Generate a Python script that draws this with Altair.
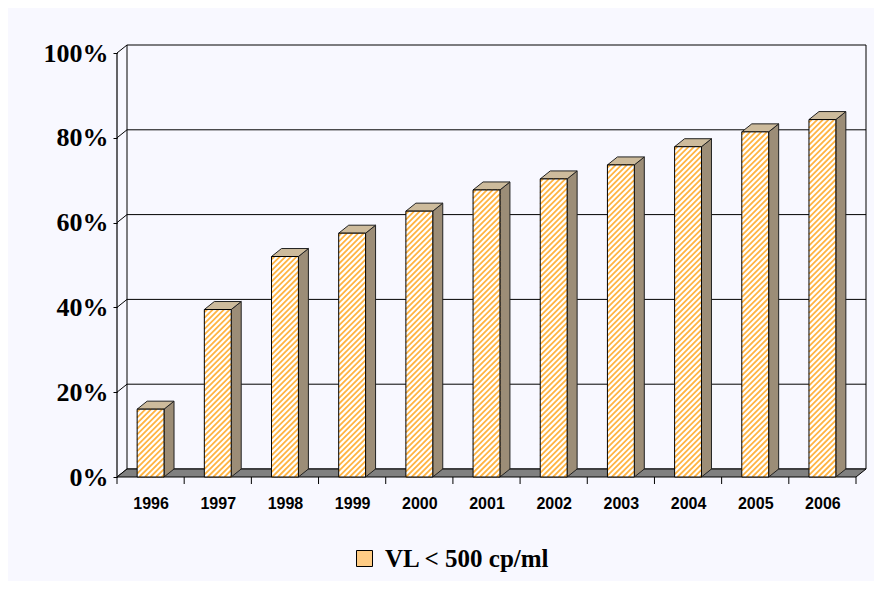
import altair as alt
import pandas as pd

# ---- data ----
years = ["1996", "1997", "1998", "1999", "2000", "2001", "2002", "2003", "2004", "2005", "2006"]
pct_vl500 = [16.0, 39.5, 52.0, 57.5, 62.7, 67.7, 70.3, 73.6, 77.9, 81.4, 84.3]
y_ticks = [0, 20, 40, 60, 80, 100]
series_label = "VL < 500 cp/ml"

# ---- geometry / style constants ----
PLOT_W, PLOT_H = 749, 432
DX_PX, DY_PX = 10, 8            # 3-D depth in pixels
N = len(years)
UX = (PLOT_W - DX_PX) / N       # pixels per category
UY = (PLOT_H - DY_PX) / 100.0   # pixels per percent
DX = DX_PX / UX
DY = DY_PX / UY
HALF = 0.2                      # half bar width (category units)
XMIN, XMAX = -0.5, N - 0.5
ORANGE = "#FFB443"
BG = "#F8F8FF"
STRIPE_PERIOD = 5.6             # hatch spacing (px, measured along x)

x_scale = alt.Scale(domain=[XMIN, XMAX + DX], nice=False, zero=False)
y_scale = alt.Scale(domain=[0, 100 + DY], nice=False, zero=False)

idx = list(range(N))
bars = pd.DataFrame({
    "i": idx, "year": years, "v": pct_vl500, "y0": 0.0,
    "x_l": [i - HALF for i in idx], "x_r": [i + HALF for i in idx],
})

side = pd.DataFrame(
    [{"year": y, "x": i + HALF, "lo": 0.0, "hi": v} for i, y, v in zip(idx, years, pct_vl500)]
    + [{"year": y, "x": i + HALF + DX, "lo": DY, "hi": v + DY} for i, y, v in zip(idx, years, pct_vl500)]
)
top = pd.DataFrame(
    [{"year": y, "y": v, "xa": i - HALF, "xb": i + HALF} for i, y, v in zip(idx, years, pct_vl500)]
    + [{"year": y, "y": v + DY, "xa": i - HALF + DX, "xb": i + HALF + DX} for i, y, v in zip(idx, years, pct_vl500)]
)

# '/' hatch lines clipped to each bar's front face (derived from the values)
hatch_rows = []
W = 2 * HALF * UX
for i, y, v in zip(idx, years, pct_vl500):
    H = v * UY
    u = STRIPE_PERIOD / 2
    while u < W + H:
        p1 = (0.0, u) if u <= H else (u - H, H)
        p2 = (u, 0.0) if u <= W else (W, u - W)
        hatch_rows.append({
            "year": y,
            "xa": i - HALF + p1[0] / UX, "ya": v - p1[1] / UY,
            "xb": i - HALF + p2[0] / UX, "yb": v - p2[1] / UY,
        })
        u += STRIPE_PERIOD
hatch = pd.DataFrame(hatch_rows)

floor = pd.DataFrame({"y": [0.0, DY], "xa": [XMIN, XMIN + DX], "xb": [XMAX, XMAX + DX]})
grid = pd.DataFrame({"t": y_ticks, "tb": [t + DY for t in y_ticks]})
grid["xa"] = XMIN + DX
grid["xb"] = XMAX + DX
grid["x0"] = XMIN
walls = pd.DataFrame({"x": [XMIN + DX, XMAX + DX], "lo": [DY, DY], "hi": [100 + DY, 100 + DY]})
front = pd.DataFrame({"x": [XMIN], "lo": [0.0], "hi": [100.0]})
bounds = pd.DataFrame({"b": [i - 0.5 for i in range(N + 1)]})
bounds["lo"] = 0.0
bounds["hi"] = -7 / UY

x_axis = alt.Axis(
    values=idx, title=None,
    labelExpr=f"'' + ({int(years[0])} + datum.value)",
    ticks=False, domain=False, grid=False, labelPadding=18,
    labelFont="Liberation Sans", labelFontWeight="bold", labelFontSize=16, labelColor="black",
)
y_axis = alt.Axis(
    values=y_ticks, title=None, labelExpr="datum.value + '%'",
    ticks=True, tickSize=4, tickColor="black", tickWidth=1, domain=False, grid=False,
    labelPadding=5, labelFont="Liberation Serif", labelFontWeight="bold", labelFontSize=26,
    labelColor="black",
)


# every layer carries the identical axes so that Vega-Lite merges them cleanly
def XN(f):
    return alt.X(f, type="quantitative", scale=x_scale, axis=x_axis, stack=None)


def YN(f):
    return alt.Y(f, type="quantitative", scale=y_scale, axis=y_axis, stack=None)


back_grid = alt.Chart(grid).mark_rule(color="black", strokeWidth=1).encode(
    x=XN("xa"), x2="xb", y=YN("tb"))
diag = alt.Chart(grid).mark_rule(color="black", strokeWidth=1).encode(
    x=XN("x0"), x2="xa", y=YN("t"), y2="tb")
wall_edges = alt.Chart(walls).mark_rule(color="black", strokeWidth=1).encode(
    x=XN("x"), y=YN("lo"), y2="hi")
front_axis = alt.Chart(front).mark_rule(color="black", strokeWidth=1.2).encode(
    x=XN("x"), y=YN("lo"), y2="hi")
floor_layer = alt.Chart(floor).mark_area(
    orient="horizontal", fill="#808080", stroke="black", strokeWidth=1
).encode(y=YN("y"), x=XN("xa"), x2="xb")
x_ticks = alt.Chart(bounds).mark_rule(color="black", strokeWidth=1).encode(
    x=XN("b"), y=YN("lo"), y2="hi")
side_layer = alt.Chart(side).mark_area(
    fill="#9C8D77", stroke="#222222", strokeWidth=1
).encode(x=XN("x"), y=YN("lo"), y2="hi", detail="year:N")
top_layer = alt.Chart(top).mark_area(
    orient="horizontal", fill="#CDBB9C", stroke="#222222", strokeWidth=1
).encode(y=YN("y"), x=XN("xa"), x2="xb", detail="year:N")

front_base = alt.Chart(bars).mark_bar(fill="#FFFFFF", strokeWidth=0).encode(
    x=XN("x_l"), x2="x_r", y=YN("v"), y2="y0",
)
hatch_layer = alt.Chart(hatch).mark_rule(color=ORANGE, strokeWidth=1.8).encode(
    x=XN("xa"), x2="xb", y=YN("ya"), y2="yb",
)
front_outline = alt.Chart(bars).mark_bar(
    fillOpacity=0, stroke="black", strokeWidth=1,
).encode(
    x=XN("x_l"), x2="x_r", y=YN("v"), y2="y0",
)

legend_layer = alt.Chart(bars).transform_calculate(
    s=f"'{series_label}'"
).mark_square(opacity=0, size=10).encode(
    x=XN("x_l"), y=YN("v"),
    fill=alt.Fill(
        "s:N",
        scale=alt.Scale(domain=[series_label], range=["#FFCC85"]),
        legend=alt.Legend(
            orient="none", legendX=235, legendY=501, title=None, padding=0,
            symbolType="square", symbolSize=256, symbolStrokeColor="black",
            symbolStrokeWidth=1, symbolOpacity=1,
            labelFont="Liberation Serif", labelFontWeight="bold", labelFontSize=25,
            labelColor="black", labelOffset=8, labelLimit=400,
        ),
    ),
)

chart = alt.layer(
    back_grid, diag, wall_edges, front_axis, floor_layer, x_ticks,
    side_layer, top_layer, front_base, hatch_layer, front_outline, legend_layer,
).properties(
    width=PLOT_W, height=PLOT_H,
    autosize=alt.AutoSizeParams(type="none"),
    padding={"left": 109, "top": 37, "right": 8, "bottom": 104},
    background=BG,
).configure_view(stroke=None)

chart.save("out.html", embed_options={"renderer": "svg", "actions": False})
